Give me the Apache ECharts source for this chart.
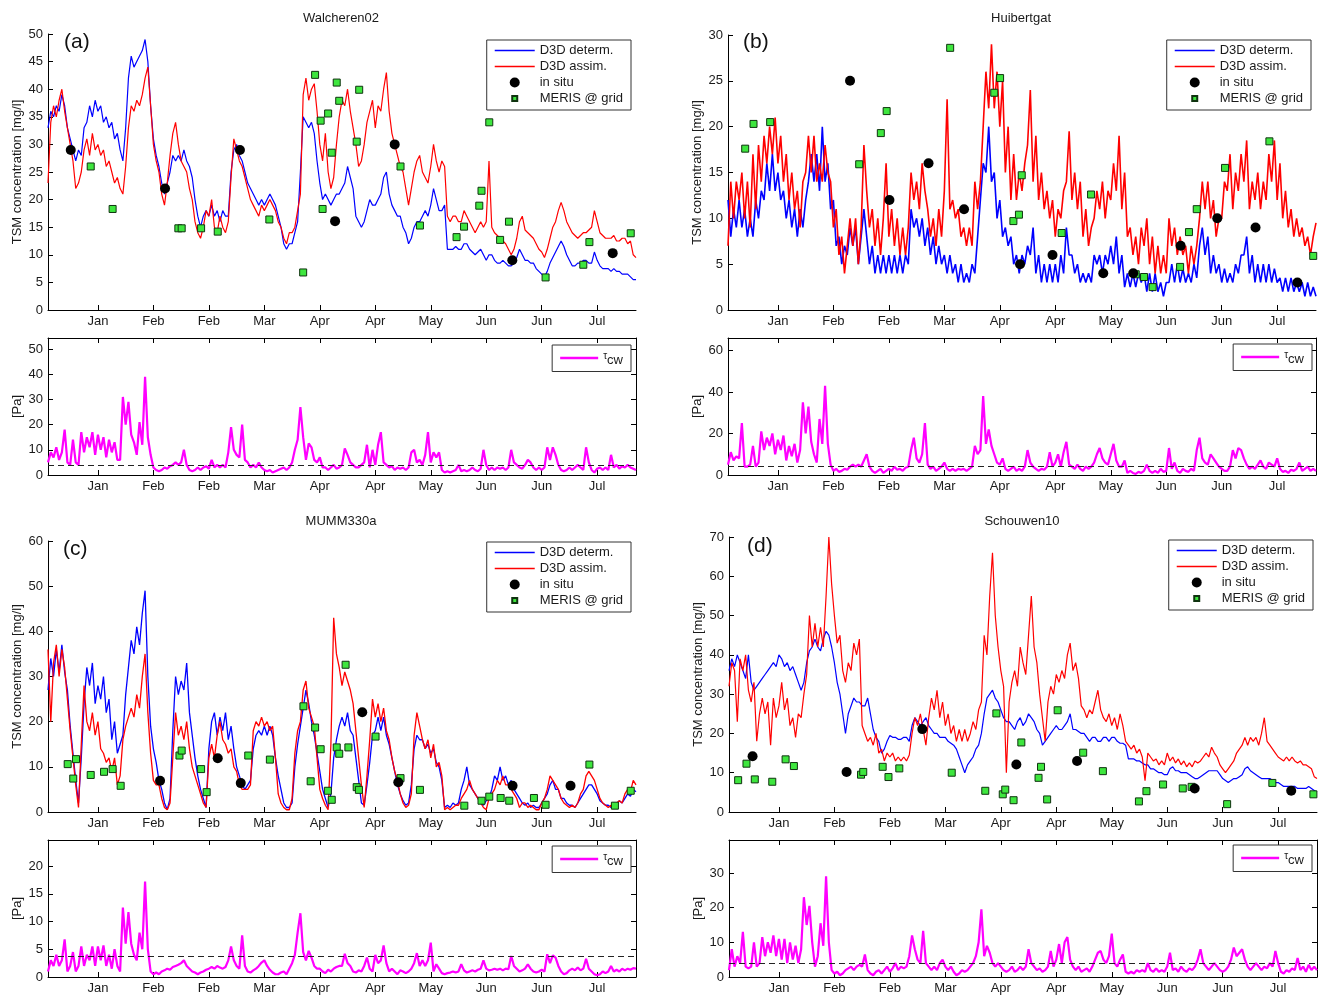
<!DOCTYPE html>
<html>
<head>
<meta charset="utf-8">
<script src="https://cdn.jsdelivr.net/npm/echarts@6/dist/echarts.min.js"></script>
<style>html,body{margin:0;padding:0;background:#fff}#chart{width:1321px;height:995px}</style>
</head>
<body>
<div id="chart"></div>
<script>
// ---------------- DATA ----------------
// day index: 1 = 1 Jan; series are daily samples starting at DAY0
const DAY0 = -3;
const X_MIN = -3, X_MAX = 209;
const TICK_DAYS = [15, 35, 55, 75, 95, 115, 135, 155, 175, 195];
const TICK_LABELS = ['Jan', 'Feb', 'Feb', 'Mar', 'Apr', 'Apr', 'May', 'Jun', 'Jun', 'Jul'];

const STATIONS = ['Walcheren02', 'Huibertgat', 'MUMM330a', 'Schouwen10'];
const PANEL_TAGS = ['(a)', '(b)', '(c)', '(d)'];

const TSM_TICKS_A = [0, 5, 10, 15, 20, 25, 30, 35, 40, 45, 50];
const TSM_TICKS_B = [0, 5, 10, 15, 20, 25, 30];
const TSM_TICKS_C = [0, 10, 20, 30, 40, 50, 60];
const TSM_TICKS_D = [0, 10, 20, 30, 40, 50, 60, 70];
const TAU_TICKS_A = [0, 10, 20, 30, 40, 50];
const TAU_TICKS_B = [0, 20, 40, 60];
const TAU_TICKS_C = [0, 5, 10, 15, 20];
const TAU_TICKS_D = [0, 10, 20, 30];
const TSM_MAX = [50, 30, 60, 70];
const TAU_MAX = [54.4, 66, 24.7, 39.5];
const TAU_THRESHOLD = [4, 4, 3.8, 4];

// (a) Walcheren02
const a_determ = [
 33,36,35,37,36,39,37,33,31,29,
 27,29,28,33,34,37,35,38,36,37,
 34,35,33,34,31,32,29,27,33,42,
 46,44,45,46,47,49,45,37,31,28,
 26,23,21,23,25,28,27,28,27,29,
 27,26,24,20,17,15,17,18,17,19,
 17,18,16,18,17,17,25,29,30,28,
 27,25,23,22,21,20,19,20,19,20,
 21,20,19,17,15,12,11,12,12,14,
 16,25,35,34,33,34,32,27,23,20,
 21,20,19,20,21,21,22,23,26,24,
 22,17,16,15,16,18,20,19,19,20,
 21,24,25,21,19,18,17,17,15,14,
 12,13,15,16,16,17,18,17,19,22,
 20,18,18,19,11,11,11,11.5,11,11,
 12,12,11,10.5,10,10.5,11,10,9,10,
 10,9,8.5,8.5,9,8.5,8,8,8.5,9.5,
 11,10,9,9,8.5,8.5,7.5,7,6.5,6,
 7,8.5,9.5,10.5,11.5,12.5,11.5,10,9,8,
 8,8.5,8.5,9,9,8.5,8.5,10.5,9,8,
 7.5,7.5,7.5,7,7.5,7,7,6.5,6.5,6.5,
 6,5.5,5.5
];
const a_assim = [
 23,34,37,35,38,40,36,33,30,27,
 22,23,25,29,31,28,32,29,30,28,
 29,26,27,25,23,24,22,21,26,33,
 37,36,38,37,39,42,44,37,30,27,
 25,21,19,23,28,32,34,30,27,26,
 25,22,20,16,14,13,15,18,17,20,
 15,14,17,15,14,16,24,31,29,27,
 26,24,22,20,19,18,17,19,18,19,
 20,19,18,16,15,13,12,14,14,15,
 18,21,39,42,38,40,41,36,30,27,
 32,25,22,24,30,35,38,37,40,36,
 33,30,26,27,30,34,36,38,33,37,
 36,40,43,36,32,30,28,26,25,22,
 19,22,25,27,28,25,24,23,26,30,
 27,25,27,26,17,16,17,17,16,16,
 18,17,16,15,14,15,16,15,16,27,
 15,14,13.5,13,12.5,12,11,10,11,13,
 16,17,14.5,14,13.5,13,12,11,10.5,9.5,
 11,13,15,16,18,19.5,18,16,15,14,
 13.5,13,13.5,14,14,14.5,15,18,16,14,
 13.5,13,13,13,13.5,12.5,12.5,13,13,12,
 12.5,10,9.5
];
const a_tau = [
 5,9,7,11,6,9,18,5,4,14,
 5,4,17,9,15,11,17,8,16,10,
 15,7,14,9,13,6,6,31,20,29,
 16,13,8,21,12,39,15,8,3,2,
 1.5,2,3,2.5,3.5,4,5,4,5,10,
 4,2,1.5,2,3,2,3,3.5,2.5,6,
 3,4,3,4,3,9,19,10,8,7,
 20,6,5,3,4,3,5,3,2,1.5,
 2,1,1.5,2,2.5,3,2,3,5,10,
 14,27,15,6,12.5,11,6,5,7,3,
 3,2,3,4,2.5,3,4,10.5,8,5,
 4,3,3,4,5,12,3,10,4,12,
 17,5,4,3,3.5,2,3,2.5,3,2,
 3,9,10,5,6,4,8,17,5,9,
 7,9,2,1,1.5,1,1.5,2,4,1.5,
 2,1.5,2,3,2,1.5,2.5,10,4,2,
 3,2,3,2.5,3,2,3,10,5,4,
 3,2.5,4,6,5,3,2,3,2,3,
 11,6,11,8,4,2,1.5,2,3,2,
 3,4,3,2,11,5,2,1,2.5,3,
 2,3,2,8,3,4,2.5,3.5,3,4,
 3,2.5,2
];
const a_insitu = [[5.2,29],[39.2,22],[66.2,29],[100.5,16.1],[122,30],[164.4,9],[200.6,10.3]];
const a_meris = [[12.4,26],[20.3,18.3],[44,14.8],[45.2,14.8],[52.2,14.8],[58.2,14.2],[76.8,16.4],[89,6.8],
 [93.3,42.6],[95.3,34.3],[96,18.3],[98,35.6],[99.3,28.5],[101.1,41.2],[102,37.9],[108.3,30.5],[109.2,39.9],
 [124.1,26],[131.1,15.3],[144.3,13.2],[147,15.1],[152.5,18.9],[153.3,21.6],[156.1,34],[160,12.7],[163.2,16],
 [176.4,5.9],[190,8.2],[192.2,12.3],[207.1,13.9]];

// (b) Huibertgat
const b_determ = [
 12,8,11,9,12,9,11,8,10,8,
 12,10,13,12,16,13,17,13,15,12,
 13,10,12,9,11,8,11,9,12,14,
 17,14,17,13,20,14,16,11,12,7,
 8,5,7,6,9,7,9,5,8,11,
 8,5,7,4,6,4,6,4,6,4,
 6,4,6,4,6,5,11,9,10,8,
 10,7,9,6,8,5,7,5,6,4,
 6,4,5,3,5,3,4,3,5,4,
 8,12,16,15,20,14,15,10,12,8,
 9,7,8,5,6,4,6,5,7,6,
 9,4,6,3,5,3,5,3,5,3,
 6,4,9,6,6,4,5,3,4,3,
 4,3,6,5,6,4,6,5,7,5,
 8,4,6,2.5,4,2.5,4,2.5,4,3,
 4,2,4,2,4,2,3,1.5,3,3,
 5,3,5,3,4.5,3,4,3,5,3.5,
 7,9,6,8,4,6,4,5,3,4.5,
 3,4,3,5,4,6,6,8,4,6,
 3,5,3,5,3,5,3,4.5,3,3.5,
 2,3.5,2,3.5,2,3,2,3,1.5,3,
 1.5,2.5,1.5
];
const b_assim = [
 7,14,10,14,12,15,10,14,9,17,
 11,18,14,19,16,20,17,21,16,19,
 14,17,12,15,11,13,9,14,15,19,
 15,19,14,16,14,18,15,14,9,11,
 6,8,4,7,10,7,10,5,9,18,
 13,9,11,7,10,6,10,16,8,11,
 7,10,6,9,6,9,15,12,14,11,
 16,13,11,8,10,7,11,8,13,23,
 11,12,10,11,8,9,7,9,7,14,
 11,14,20,26,22,29,22,26,20,25,
 15,20,12,17,12,15,13,16,18,24,
 14,19,12,15,11,13,10,12,8,11,
 10,13,14,19.5,12,15,11,14,8,11,
 7,9,10,13,11,14,10,13,12,16,
 13,19,11,15,8,9,6,8,5,9,
 7,10,5,8,4,7,4,6,4,10,
 7,9,6,8,6,7,4,7,5,7,
 10,14,11,14,10,12,8,10,10,14,
 13,17,11,15,13,17,14,18.5,11,14,
 12,15,11,14,12,17,14,18.5,12,16,
 10,13,9,11,8,10,8,9,7,8,
 6,8,9.5
];
const b_tau = [
 5,11,7,9,8,25,4,4,5,14,
 4,6,21,12,18,14,20,10,17,12,
 19,7,14,9,15,6,12,35,20,33,
 16,10,6,27,15,43,15,5,2,3,
 1.5,2,3,2.5,4,5,4,5,4,7,
 10,4,2,1,2,3,1,2,3,2,
 4,2.5,3,2,3.5,4,12,18,8,6,
 10,25,5,3,4,2,3,4,6,3,
 2,3,2,3,2.5,3,2,3,4,14,
 10,12,38,15,22,14,10,6,5,8,
 3,2,3,4,2,3,2,4,12,6,
 4,3,2,3,2.5,4,11,4,6,10,
 4,11,16,5,4,3,5,3,2,4,
 3,4,6,10,13,8,6,5,10,15,
 7,4,4,7,1,2,1,0.5,1.5,1,
 2,5,2,1,2,1,3,1.5,2,13,
 3,6,2,1,3,2,1.5,3,2,12,
 18,8,6,5,10,8,6,4,3,2,
 2,4,12,8,13,12,8,5,3,4,
 3,5,7,4,3,6,5,4,8,3,
 1.5,2,1,2.5,2,3,6,2,3,4,
 2,3,2
];
const b_insitu = [[41,25],[55.2,12],[69.3,16],[82.1,11],[102.3,5],[114,6],[132.3,4],[143.1,4],[160.2,7],[173.4,10],[187.2,9],[202.3,3]];
const b_meris = [[3.2,17.6],[6.2,20.3],[12.2,20.5],[44.3,15.9],[52.1,19.3],[54.2,21.7],[77.1,28.6],[93,23.7],
 [95.1,25.3],[99.9,9.7],[101.9,10.4],[102.9,14.7],[117.3,8.4],[127.9,12.6],[144,3.9],[147,3.6],[150.1,2.5],
 [160,4.7],[163.2,8.5],[166,11],[176.2,15.5],[192.2,18.4],[208,5.9]];

// (c) MUMM330a
const c_determ = [
 27,34,30,36,31,37,31,27,19,13,
 7,2,12,24,32,28,33,24,28,25,
 30,22,25,16,20,13,15,17,26,32,
 38,35,41,37,44,49,30,19,14,11,
 7,5,2,0.5,3,18,30,26,29,27,
 33,22,17,12,8,5,3,1,14,20,
 22,17,21,18,22,16,19,14,10,8,
 6,5,6,7,14,17,18,17,19,17,
 19,17,12,8,5,2,1,1,2,10,
 15,19,23,27,24,20,17,13,9,5,
 3,1,4,12,16,19,21,19,22,18,
 17,12,7,2,1.5,6,11,17,18,21,
 18,21,17,15,12,9,6,4,2.5,1.5,
 2,6,14,17,16,16,14,15,13,14,
 11,10,7,1,1.5,1,2,1.5,2,5,
 7,10,6,5,4,3,2,1.5,2.5,3,
 5,8,7,10,7,8,6,7,5,4,
 3,2,1.5,2,1,1.5,1,1,2,3,
 4,6,7,5,5,3,3,2,1.5,1.5,
 1,2,3,4,5,6,6,5,4,2.5,
 2,1.5,1.5,1,2,1.5,2.5,2,3,4,
 3.5,5,4.5
];
const c_assim = [
 36,20,33,37,30,36,32,25,18,12,
 6,1,15,28,20,18,22,17,20,14,
 13,11,12,9,12,6,8,16,19,21,
 23,21,26,23,30,35,22,13,7,6,
 6,3,1,0.5,2,12,22,17,19,16,
 20,14,10,8,6,4,2,1,12,15,
 12,17,20,16,15,13,14,10,9,6,
 5,5,5,6,18,20,19,21,19,20,
 18,19,12,4,2,1,0.5,0.5,3,13,
 18,20,27,29,23,21,19,12,5,3,
 1.5,0.5,15,43,35,32,28,31,29,27,
 24,18,12,6,1,8,16,25,21,24,
 20,23,18,16,12,9,7,4,2,1,
 1.5,4,17,22,19,16,14,16,12,15,
 10,11,8,0.5,1,0.5,1,1.5,1.5,3,
 4,5,7,5,4,3,2,1,0.5,3,
 4,5,7,6,8,6,6,5,4,3,
 1,2,2,1,1.5,1,0.5,0.5,2,3,
 5,8,7,6,5,3,2,1.5,1,1.5,
 1,2,4,5,8,9,8,7,5,3,
 2,1.5,1,1.5,1,2,2.5,2,4,5,
 4.5,7,6
];
const c_tau = [
 1,3,2,4,2,3,6.8,1,2,4.5,
 1,2,5.5,2,4,3,5.5,2,5.5,3,
 5.7,2,4,1.5,5,2,1,12.5,6,11.7,
 6,4,3,8,5,17.2,5,1,0.5,0.8,
 0.5,1,1.2,1.5,1.3,1.8,2,2.2,2.5,3,
 2,1.5,1,0.8,0.5,0.8,1,1.3,1.5,1.8,
 1.5,2,1.7,1.5,1.8,3,5.5,3,2,1.5,
 7.5,2,1,0.8,1.2,1.5,2,2.6,3,2,
 1.3,0.8,0.5,0.5,0.8,1,0.5,1.5,2.5,4,
 8,11.5,4.5,3,4.7,3.5,2,1.5,1.5,1,
 0.7,1.3,1,1.5,1.8,2,2,4.2,2.5,2,
 1,0.8,1.2,1,2,3.5,1.5,1,4,2.5,
 3,5.7,2.5,1,1.5,1,0.5,1.2,1,0.7,
 1,1.5,2.5,4.3,2,3,2,3,6.2,1,
 2.3,1.5,0.7,0.5,0.7,0.8,1,0.8,1,2.3,
 1.2,0.8,1,1.2,1,1.3,1.5,3,1.5,1.2,
 1.3,1.5,1.3,1.5,1.2,1.5,1.4,3.8,2,1.5,
 1,1.2,1.5,2.3,1.5,1,0.8,1,1.3,1,
 4.1,2.5,3.9,3.5,2,1,0.5,0.7,1.2,1.5,
 1.2,1.7,1.2,1.5,3.3,1.5,1,0.5,0.3,0.5,
 1,0.7,1,2,1,1.3,1,1.5,1.2,1.5,
 1.3,1.6,1.5
];
const c_insitu = [[37.4,6.9],[58.2,11.9],[66.5,6.4],[110.3,22.1],[123.3,6.6],[164.5,5.8],[185.4,5.8]];
const c_meris = [[4.1,10.6],[6.1,7.4],[7.1,11.7],[12.4,8.2],[17.2,8.9],[20.3,9.5],[23.2,5.8],[44.4,12.5],
 [45.2,13.6],[52.2,9.5],[54.2,4.4],[69.2,12.5],[77,11.6],[89.1,23.4],[91.7,6.8],[93.3,18.7],[95.3,13.9],
 [97.9,4.7],[99.3,2.7],[101.1,14.3],[102,12.9],[104.3,32.6],[105.3,14.3],[108.3,5.5],[109.1,4.9],[115.1,16.7],
 [124.1,7.5],[131.1,4.9],[147.1,1.4],[153.3,2.5],[156.1,3.4],[160.2,3.1],[163.3,2.5],[172.2,3.1],[176.4,1.6],
 [192.2,10.5],[201.4,1.4],[207.1,4.7]];

// (d) Schouwen10
const d_determ = [
 36,39,37,40,38,36,34,40,33,31,
 32,33,34,35,36,37,38,37,40,39,
 37,38,36,37,35,33,31,33,38,41,
 42,44,42,41,44,46,45,42,38,33,
 30,25,20,25,27,29,28,28,27,27,
 29,25,21,19,18,15,16,18,19.5,19,
 19,18.5,18.5,19,19,18,22,24,23,22,
 23,24,22,21,20,20,19,19,19,18,
 17.5,17,16,14,12,10,12,13,14,16,
 17,20,25,29,30,31,29,28,26,24,
 23,23,22,21,23,24,22,23,25,24,
 23,21,20,17,18,19,20,21,22,21,
 21,22,23,25,21,21,20.5,20,20,19,
 18,19,19,18,18,19,19,18,19,19,
 18,17.5,17.5,17,13.5,13.5,13.5,13,13,12.5,
 12,12,11,11,10.5,10,10,9.5,9.5,11,
 11.5,10.5,10.5,10,10,10,9.5,9,8.5,8.5,
 9,9.5,10,10.5,10.5,10.5,10.5,9.5,8.5,8,
 7.5,8,8.5,8.5,9,9.5,11,11.5,10.5,10,
 9.5,9,8.5,8.5,8.5,8.5,8,7.5,7.5,7,
 6.5,6.5,6.5,6.5,6.5,6,6,6,6,6.5,
 6,5.5,5
];
const d_assim = [
 32,38,36,23,39,36,40,31,28,33,
 18,25,29,25,28,17,29,24,27,33,
 26,29,22,24,19,25,24,30,35,50,
 42,48,42,47,42,55,70,58,50,43,
 45,36,33,38,36,43,40,44,22,20,
 18,19,17,20,15,16,13,15,14,15,
 13,14,13,14,13,14.5,20,24,22,25,
 21,17,24,29,26,31,24,28,22,25,
 20,22,18,21,18,21,18,20,23,21,
 26,28,45,40,55,66,50,42,36,32,
 10,28,33,36,32,42,38,35,45,55,
 42,38,30,24,18,28,32,30,35,33,
 36,34,40,43,36,38,34,27,26,24,
 26,25,28,31,26,24,23,25,22,24,
 21,25,22,18,17,16,17,15,16,14,
 8,15,14,13,13.5,12,13,12,15,13,
 14,12.5,13.5,12,13,11.5,12.5,11.5,13,12.5,
 13,14,15,14,16.5,15,14,12,11,10,
 11,12,13,15,16,17,19,17,19,18,
 19,17,20,24,18,17,16,15,14,13.5,
 13,14,13,14,13,12.5,13,12,12,11.5,
 11,9,8.5
];
const d_tau = [
 2,8,3,6,4,13,3,2.5,3,10,
 3,4,11.5,6,10,7,12,6,11,5,
 11,4,10,5,9,4,8,23,15,20.5,
 10,3,6,15.5,9,29,10,2,1,1.5,
 0.5,1,2,2.5,3,2,3,3.5,3,6.5,
 2,1,0.5,1.5,2,1,2,3,1.5,2.5,
 4,2,3,2.5,3,6,12,8,5,4,
 13.3,4,3,2,3,2,4,5,3,2,
 3,1.5,0.5,1,2,1.5,2,3,4,6,
 10,19.5,6,9,7,4,3,4,3,2,
 1.5,2,3,1.5,2,3,2,3,8,4,
 3,2,2.5,1.5,2,3,7.5,3,5,9.5,
 4,10,11.5,5,3,2,3,1.5,2,2.5,
 1.5,3,5,7,7.5,5,4,6,12.5,4,
 3,5,6.5,1.5,1,1.5,1,2,1.5,2,
 1.5,4,2,1.5,2.5,1.5,2,1.5,3,7,
 2,2.5,1.5,3,2,1.5,2.5,2,3,5,
 8,4,3,2,3,4,3,2,1.5,2,
 3,5,8.5,6,7,8,5,3,2,3,
 4,3,2,3,2.5,4,3,7.5,4,1.5,
 1,2,1.5,2.5,2,5.5,2,3,1.5,3.5,
 2,3,2
];
const d_insitu = [[5.5,14.2],[39.4,10.2],[66.7,21.1],[100.6,12.1],[122.5,13],[164.9,6],[199.7,5.4]];
const d_meris = [[0.3,8.1],[3.3,12.3],[6.3,8.3],[12.6,7.7],[17.4,13.4],[20.4,11.7],[44.6,9.5],[45.4,10.2],
 [52.4,11.5],[54.5,8.9],[58.4,11.1],[77.3,10],[89.4,5.4],[93.4,25.1],[95.7,4.5],[96.6,5.7],[99.6,3],[102.4,17.7],
 [108.6,8.7],[109.5,11.5],[111.7,3.2],[115.5,25.9],[124.7,15.1],[131.8,10.4],[144.8,2.7],[147.5,5.3],[153.5,7],
 [160.6,6],[163.8,6.4],[176.6,2],[192.9,7.4],[207.7,4.5]];

// ---------------- LAYOUT / STYLE ----------------
const LAYOUT = [
  {tsm:{left:48, top:34, width:588, height:276}, tau:{left:48, top:338, width:588, height:137},
   title:{x:341, y:12}, tag:{x:64, y:32}, legTsm:{right:690, top:40}, legTau:{right:690, top:345}, lw:1.2},
  {tsm:{left:728, top:35, width:588, height:275}, tau:{left:728, top:338, width:588, height:137},
   title:{x:1021, y:12}, tag:{x:743, y:32}, legTsm:{right:10, top:40}, legTau:{right:9, top:344}, lw:1.6},
  {tsm:{left:48, top:541, width:588, height:271}, tau:{left:48, top:840, width:588, height:137},
   title:{x:341, y:515}, tag:{x:63, y:539}, legTsm:{right:690, top:542}, legTau:{right:690, top:846}, lw:1.3},
  {tsm:{left:729, top:537, width:588, height:275}, tau:{left:729, top:840, width:588, height:137},
   title:{x:1022, y:515}, tag:{x:747, y:536}, legTsm:{right:8, top:540}, legTau:{right:9, top:845}, lw:1.2}
];
const FONT = 'Liberation Sans, Arial, Helvetica, sans-serif';
const TXT = '#1a1a1a';
const LINE_ICON = 'path://M0,0h40v1.3h-40z';
const TAU_ICON = 'path://M0,0h38v2.4h-38z';

const PANELS = [
  {determ:a_determ, assim:a_assim, tau:a_tau, insitu:a_insitu, meris:a_meris, tsmTicks:TSM_TICKS_A, tauTicks:TAU_TICKS_A},
  {determ:b_determ, assim:b_assim, tau:b_tau, insitu:b_insitu, meris:b_meris, tsmTicks:TSM_TICKS_B, tauTicks:TAU_TICKS_B},
  {determ:c_determ, assim:c_assim, tau:c_tau, insitu:c_insitu, meris:c_meris, tsmTicks:TSM_TICKS_C, tauTicks:TAU_TICKS_C},
  {determ:d_determ, assim:d_assim, tau:d_tau, insitu:d_insitu, meris:d_meris, tsmTicks:TSM_TICKS_D, tauTicks:TAU_TICKS_D}
];

const monthLabel = v => { const k = TICK_DAYS.indexOf(Math.round(v)); return k >= 0 ? TICK_LABELS[k] : ''; };
const toXY = arr => arr.map((v, i) => [DAY0 + i, v]);

function xAxisDef(gridIndex, opts) {
  return Object.assign({
    type:'value', gridIndex, min:X_MIN, max:X_MAX, position:'bottom',
    axisLine:{show:true, onZero:false, lineStyle:{color:'#000', width:1}},
    axisTick:{show:true, inside:true, length:5, customValues:TICK_DAYS, lineStyle:{color:'#000'}},
    axisLabel:{show:true, customValues:TICK_DAYS, formatter:monthLabel, fontSize:13, color:TXT, margin:5, fontFamily:FONT},
    splitLine:{show:false}
  }, opts || {});
}
function yAxisDef(gridIndex, max, ticks, name, opts) {
  return Object.assign({
    type:'value', gridIndex, min:0, max, position:'left',
    axisLine:{show:true, onZero:false, lineStyle:{color:'#000', width:1}},
    axisTick:{show:true, inside:true, length:5, customValues:ticks, lineStyle:{color:'#000'}},
    axisLabel:{show:true, customValues:ticks, fontSize:13, color:TXT, margin:5, fontFamily:FONT},
    splitLine:{show:false},
    name, nameLocation:'middle', nameGap:24, nameRotate:90,
    nameTextStyle:{fontSize:13, color:TXT, fontFamily:FONT}
  }, opts || {});
}

const option = {
  animation:false,
  backgroundColor:'#ffffff',
  textStyle:{fontFamily:FONT},
  title:[], legend:[], grid:[], xAxis:[], yAxis:[], series:[]
};

PANELS.forEach((P, p) => {
  const L = LAYOUT[p];
  option.title.push({text:STATIONS[p], left:L.title.x, top:L.title.y, textAlign:'center', padding:0,
    textStyle:{fontSize:13, fontWeight:'normal', color:TXT, fontFamily:FONT}});
  option.title.push({text:PANEL_TAGS[p], left:L.tag.x, top:L.tag.y, padding:0,
    textStyle:{fontSize:21, fontWeight:'normal', color:'#111', fontFamily:FONT}});

  const gTsm = option.grid.length;
  option.grid.push(Object.assign({outerBoundsMode:'none', containLabel:false}, L.tsm));
  const gTau = option.grid.length;
  option.grid.push(Object.assign({outerBoundsMode:'none', containLabel:false}, L.tau));

  const xTsm = option.xAxis.length; option.xAxis.push(xAxisDef(gTsm));
  const xTau = option.xAxis.length; option.xAxis.push(xAxisDef(gTau));
  option.xAxis.push(xAxisDef(gTau, {position:'top', axisLabel:{show:false}}));

  const yTsm = option.yAxis.length;
  option.yAxis.push(yAxisDef(gTsm, TSM_MAX[p], P.tsmTicks, 'TSM concentration [mg/l]'));
  const yTau = option.yAxis.length;
  option.yAxis.push(yAxisDef(gTau, TAU_MAX[p], P.tauTicks, '[Pa]'));
  option.yAxis.push(yAxisDef(gTau, TAU_MAX[p], P.tauTicks, '', {position:'right', axisLabel:{show:false}}));

  const common = {emphasis:{disabled:true}, silent:true};
  option.series.push(Object.assign({name:'D3D determ.', type:'line', xAxisIndex:xTsm, yAxisIndex:yTsm,
    data:toXY(P.determ), symbol:'none', showSymbol:false, lineStyle:{color:'#0000ff', width:L.lw}, itemStyle:{color:'#0000ff'}, z:2}, common));
  option.series.push(Object.assign({name:'D3D assim.', type:'line', xAxisIndex:xTsm, yAxisIndex:yTsm,
    data:toXY(P.assim), symbol:'none', showSymbol:false, lineStyle:{color:'#ff0000', width:L.lw}, itemStyle:{color:'#ff0000'}, z:3}, common));
  option.series.push(Object.assign({name:'in situ', type:'scatter', xAxisIndex:xTsm, yAxisIndex:yTsm,
    data:P.insitu, symbol:'circle', symbolSize:10, itemStyle:{color:'#000000', opacity:1}, z:5}, common));
  option.series.push(Object.assign({name:'MERIS @ grid', type:'scatter', xAxisIndex:xTsm, yAxisIndex:yTsm,
    data:P.meris, symbol:'rect', symbolSize:7, itemStyle:{color:'#3ee63e', borderColor:'#0f330f', borderWidth:1, opacity:1}, z:4}, common));
  option.series.push(Object.assign({name:'τcw', type:'line', xAxisIndex:xTau, yAxisIndex:yTau,
    data:toXY(P.tau), symbol:'none', showSymbol:false, lineStyle:{color:'#ff00ff', width:2.2}, itemStyle:{color:'#ff00ff'}, z:2,
    markLine:{silent:true, symbol:'none', animation:false, label:{show:false},
      lineStyle:{color:'#222', type:[6,4], width:1.2}, data:[{yAxis:TAU_THRESHOLD[p]}]}}, common));

  option.legend.push({
    orient:'vertical', right:L.legTsm.right, top:L.legTsm.top,
    itemWidth:40, itemHeight:10, itemGap:3, padding:[4,8,5,8],
    borderColor:'#333', borderWidth:1, backgroundColor:'#fff', selectedMode:false,
    textStyle:{fontSize:13, color:TXT, fontFamily:FONT},
    data:[{name:'D3D determ.', icon:LINE_ICON}, {name:'D3D assim.', icon:LINE_ICON}, {name:'in situ', icon:'circle'},
          {name:'MERIS @ grid', icon:'path://M0,0M10,10M2.5,2.5h5v5h-5z'}]
  });
  option.legend.push({
    orient:'vertical', right:L.legTau.right, top:L.legTau.top,
    itemWidth:38, itemHeight:10, padding:[6,8,5,8],
    borderColor:'#333', borderWidth:1, backgroundColor:'#fff', selectedMode:false,
    formatter:() => '{t|τ}{s|cw}',
    textStyle:{fontSize:13, color:TXT, fontFamily:FONT,
      rich:{t:{fontSize:10, color:TXT, padding:[0,0,4,0]}, s:{fontSize:13, color:TXT, padding:[4,0,0,0]}}},
    data:[{name:'τcw', icon:TAU_ICON}]
  });
});

const chart = echarts.init(document.getElementById('chart'), null, {renderer:'canvas'});
chart.setOption(option);
</script>
</body>
</html>
